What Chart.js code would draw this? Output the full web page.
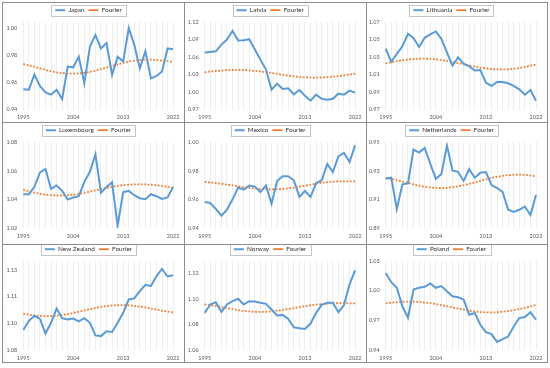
<!DOCTYPE html>
<html>
<head>
<meta charset="utf-8">
<script src="https://cdn.jsdelivr.net/npm/chart.js@4.4.1/dist/chart.umd.min.js"></script>
<style>
  html, body { margin: 0; padding: 0; background: #fff; }
  #grid { position: relative; width: 550px; height: 368px; }
  .panel { position: absolute; box-sizing: border-box; border: 1px solid #8c8c8c; background: #fff; }
  .panel canvas { display: block; }
</style>
</head>
<body>
<div id="grid"></div>
<script>
const years = ['1995', '1996', '1997', '1998', '1999', '2000', '2001', '2002', '2003', '2004',
  '2005', '2006', '2007', '2008', '2009', '2010', '2011', '2012', '2013', '2014',
  '2015', '2016', '2017', '2018', '2019', '2020', '2021', '2022'];
const shownYears = ['1995', '2004', '2013', '2022'];

const japan = [0.9550, 0.9546, 0.9657, 0.9573, 0.9526, 0.9510, 0.9546, 0.9477, 0.9716, 0.9711,
  0.9790, 0.9593, 0.9864, 0.9950, 0.9850, 0.9890, 0.9654, 0.9788, 0.9753, 1.0000,
  0.9877, 0.9704, 0.9830, 0.9630, 0.9647, 0.9680, 0.9850, 0.9844];
const japanFourier = [0.9735, 0.9725, 0.9715, 0.9703, 0.9692, 0.9682, 0.9674, 0.9668, 0.9665, 0.9664,
  0.9666, 0.9670, 0.9677, 0.9686, 0.9697, 0.9709, 0.9721, 0.9733, 0.9744, 0.9753,
  0.9760, 0.9765, 0.9767, 0.9767, 0.9765, 0.9761, 0.9756, 0.9750];

const latvia = [1.0676, 1.0687, 1.0698, 1.0813, 1.0899, 1.1048, 1.0882, 1.0887, 1.0905, 1.0727,
  1.0555, 1.0384, 1.0040, 1.0143, 1.0052, 1.0063, 0.9960, 1.0034, 0.9937, 0.9851,
  0.9954, 0.9885, 0.9868, 0.9885, 0.9971, 0.9954, 1.0023, 0.9989];
const latviaFourier = [1.0338, 1.0350, 1.0360, 1.0368, 1.0374, 1.0377, 1.0378, 1.0376, 1.0371, 1.0363,
  1.0352, 1.0339, 1.0325, 1.0310, 1.0295, 1.0281, 1.0268, 1.0258, 1.0251, 1.0247,
  1.0246, 1.0249, 1.0255, 1.0263, 1.0273, 1.0285, 1.0299, 1.0313];

const lithuania = [1.0396, 1.0246, 1.0335, 1.0423, 1.0565, 1.0515, 1.0415, 1.0519, 1.0558, 1.0592,
  1.0508, 1.0354, 1.0200, 1.0296, 1.0223, 1.0192, 1.0146, 1.0150, 1.0008, 0.9969,
  1.0015, 1.0015, 1.0000, 0.9969, 0.9931, 0.9869, 0.9923, 0.9800];
const lithuaniaFourier = [1.0227, 1.0240, 1.0252, 1.0262, 1.0271, 1.0277, 1.0280, 1.0281, 1.0278, 1.0273,
  1.0265, 1.0255, 1.0243, 1.0230, 1.0216, 1.0203, 1.0190, 1.0179, 1.0170, 1.0163,
  1.0159, 1.0158, 1.0160, 1.0166, 1.0175, 1.0186, 1.0199, 1.0213];

const luxembourg = [1.0438, 1.0438, 1.0489, 1.0590, 1.0613, 1.0475, 1.0499, 1.0461, 1.0400, 1.0415,
  1.0424, 1.0524, 1.0594, 1.0716, 1.0447, 1.0489, 1.0522, 1.0216, 1.0452, 1.0461,
  1.0431, 1.0410, 1.0403, 1.0438, 1.0424, 1.0405, 1.0415, 1.0489];
const luxembourgFourier = [1.0468, 1.0458, 1.0449, 1.0441, 1.0435, 1.0431, 1.0429, 1.0429, 1.0431, 1.0435,
  1.0441, 1.0448, 1.0456, 1.0465, 1.0474, 1.0482, 1.0490, 1.0496, 1.0501, 1.0504,
  1.0506, 1.0507, 1.0506, 1.0504, 1.0500, 1.0495, 1.0489, 1.0482];

const mexico = [0.9584, 0.9577, 0.9535, 0.9488, 0.9530, 0.9602, 0.9684, 0.9670, 0.9698, 0.9691,
  0.9653, 0.9698, 0.9572, 0.9730, 0.9763, 0.9763, 0.9735, 0.9619, 0.9660, 0.9619,
  0.9716, 0.9735, 0.9849, 0.9793, 0.9902, 0.9926, 0.9863, 0.9979];
const mexicoFourier = [0.9723, 0.9720, 0.9716, 0.9711, 0.9705, 0.9699, 0.9693, 0.9687, 0.9682, 0.9678,
  0.9675, 0.9673, 0.9672, 0.9673, 0.9675, 0.9679, 0.9684, 0.9690, 0.9697, 0.9704,
  0.9711, 0.9717, 0.9722, 0.9725, 0.9727, 0.9728, 0.9728, 0.9728];

const netherlands = [0.9246, 0.9253, 0.9034, 0.9207, 0.9214, 0.9449, 0.9428, 0.9461, 0.9352, 0.9246,
  0.9278, 0.9477, 0.9304, 0.9294, 0.9230, 0.9313, 0.9253, 0.9288, 0.9292, 0.9202,
  0.9181, 0.9154, 0.9029, 0.9015, 0.9029, 0.9052, 0.8992, 0.9133];
const netherlandsFourier = [0.9253, 0.9245, 0.9236, 0.9226, 0.9216, 0.9206, 0.9197, 0.9190, 0.9185, 0.9182,
  0.9181, 0.9183, 0.9187, 0.9193, 0.9201, 0.9210, 0.9220, 0.9231, 0.9241, 0.9251,
  0.9259, 0.9266, 0.9271, 0.9274, 0.9275, 0.9273, 0.9269, 0.9263];

const newZealand = [1.0912, 1.0963, 1.0992, 1.0975, 1.0893, 1.0953, 1.1033, 1.0979, 1.0972, 1.0977,
  1.0961, 1.0979, 1.0953, 1.0882, 1.0878, 1.0905, 1.0901, 1.0953, 1.1009, 1.1084,
  1.1090, 1.1131, 1.1166, 1.1159, 1.1215, 1.1256, 1.1213, 1.1220];
const newZealandFourier = [1.1005, 1.0999, 1.0994, 1.0991, 1.0990, 1.0991, 1.0993, 1.0997, 1.1002, 1.1008,
  1.1015, 1.1022, 1.1029, 1.1036, 1.1042, 1.1047, 1.1050, 1.1052, 1.1052, 1.1051,
  1.1048, 1.1044, 1.1039, 1.1033, 1.1027, 1.1021, 1.1016, 1.1011];

const norway = [1.0892, 1.0958, 1.0976, 1.0900, 1.0958, 1.0984, 1.1003, 1.0958, 1.0984, 1.0982,
  1.0971, 1.0963, 1.0918, 1.0871, 1.0876, 1.0845, 1.0779, 1.0771, 1.0766, 1.0808,
  1.0892, 1.0955, 1.0971, 1.0971, 1.0897, 1.0953, 1.1116, 1.1226];
const norwayFourier = [1.0958, 1.0953, 1.0946, 1.0938, 1.0929, 1.0921, 1.0914, 1.0908, 1.0904, 1.0901,
  1.0900, 1.0901, 1.0904, 1.0909, 1.0915, 1.0922, 1.0930, 1.0937, 1.0945, 1.0951,
  1.0957, 1.0961, 1.0965, 1.0967, 1.0968, 1.0968, 1.0967, 1.0966];

const poland = [1.0178, 1.0086, 1.0029, 0.9842, 0.9726, 1.0012, 1.0029, 1.0039, 1.0073, 1.0029,
  1.0046, 0.9995, 0.9944, 0.9933, 0.9910, 0.9757, 0.9774, 0.9655, 0.9580, 0.9560,
  0.9482, 0.9509, 0.9536, 0.9638, 0.9723, 0.9733, 0.9781, 0.9706];
const polandFourier = [0.9872, 0.9878, 0.9883, 0.9887, 0.9889, 0.9888, 0.9885, 0.9880, 0.9873, 0.9864,
  0.9854, 0.9843, 0.9831, 0.9819, 0.9808, 0.9798, 0.9790, 0.9784, 0.9781, 0.9780,
  0.9782, 0.9787, 0.9794, 0.9803, 0.9814, 0.9826, 0.9840, 0.9856];

// y tick values and their printed labels, per panel
const japanTicks = [0.94, 0.96, 0.98, 1.00];
const latviaTicks = [0.97, 1.00, 1.03, 1.06, 1.09, 1.12];
const lithuaniaTicks = [0.97, 0.99, 1.01, 1.03, 1.05, 1.07];
const luxembourgTicks = [1.02, 1.04, 1.06, 1.08];
const mexicoTicks = [0.94, 0.96, 0.98, 1.00];
const netherlandsTicks = [0.89, 0.91, 0.93, 0.95];
const newZealandTicks = [1.08, 1.095, 1.11, 1.125];
const newZealandTickText = ['1.08', '1.10', '1.11', '1.13'];
const norwayTicks = [1.06, 1.08, 1.10, 1.12];
const polandTicks = [0.94, 0.97, 1.00, 1.03];

const panels = [
  { name: 'Japan', data: japan, fourier: japanFourier, ticks: japanTicks, min: 0.94, max: 1.0045 },
  { name: 'Latvia', data: latvia, fourier: latviaFourier, ticks: latviaTicks, min: 0.97, max: 1.12 },
  { name: 'Lithuania', data: lithuania, fourier: lithuaniaFourier, ticks: lithuaniaTicks, min: 0.97, max: 1.07 },
  { name: 'Luxembourg', data: luxembourg, fourier: luxembourgFourier, ticks: luxembourgTicks, min: 1.02, max: 1.08 },
  { name: 'Mexico', data: mexico, fourier: mexicoFourier, ticks: mexicoTicks, min: 0.94, max: 1.00 },
  { name: 'Netherlands', data: netherlands, fourier: netherlandsFourier, ticks: netherlandsTicks, min: 0.89, max: 0.95 },
  { name: 'New Zealand', data: newZealand, fourier: newZealandFourier, ticks: newZealandTicks, tickText: newZealandTickText, min: 1.08, max: 1.13 },
  { name: 'Norway', data: norway, fourier: norwayFourier, ticks: norwayTicks, min: 1.06, max: 1.13 },
  { name: 'Poland', data: poland, fourier: polandFourier, ticks: polandTicks, min: 0.94, max: 1.03 },
];

// grid geometry
const colLeft = [2, 184, 366];
const colWidth = [183, 183, 182];
const rowTop = [2, 122, 244];
const rowHeight = [121, 123, 119];
// chart area targets inside each canvas
const colAxisWidth = [20.3, 19.7, 18.7];
const colPadRight = [10, 10.7, 11];
const rowPadTop = [0, 0, -3];
const rowLegendHeight = [19, 19.3, 19];
const rowAxisHeight = [12.5, 15.7, 12];

const FONT = 'Lato, "Open Sans", sans-serif';

const legendFrame = {
  id: 'legendFrame',
  afterDraw(chart) {
    const boxes = chart.legend && chart.legend.legendHitBoxes;
    if (!boxes || !boxes.length) return;
    const left = Math.min(...boxes.map(b => b.left)) - 4;
    const right = Math.max(...boxes.map(b => b.left + b.width)) + 4;
    const top = Math.min(...boxes.map(b => b.top)) - 2.5;
    const bottom = Math.max(...boxes.map(b => b.top + b.height)) + 2.5;
    const ctx = chart.ctx;
    ctx.save();
    ctx.strokeStyle = '#c4c4c4';
    ctx.lineWidth = 1;
    ctx.strokeRect(Math.round(left) + 0.5, Math.round(top) + 0.5, Math.round(right - left), Math.round(bottom - top));
    ctx.restore();
  }
};

const grid = document.getElementById('grid');

panels.forEach((p, i) => {
  const col = i % 3;
  const row = Math.floor(i / 3);
  const div = document.createElement('div');
  div.className = 'panel';
  div.style.left = colLeft[col] + 'px';
  div.style.top = rowTop[row] + 'px';
  div.style.width = colWidth[col] + 'px';
  div.style.height = rowHeight[row] + 'px';
  const canvas = document.createElement('canvas');
  div.appendChild(canvas);
  grid.appendChild(div);

  new Chart(canvas, {
    type: 'line',
    data: {
      labels: years,
      datasets: [
        {
          label: p.name,
          data: p.data,
          borderColor: '#5b9bd5',
          backgroundColor: '#5b9bd5',
          borderWidth: 2,
          pointRadius: 0,
          pointStyle: 'line',
          tension: 0,
        },
        {
          label: 'Fourier',
          data: p.fourier,
          borderColor: '#ed7d31',
          backgroundColor: '#ed7d31',
          borderWidth: 1.8,
          borderDash: [1.8, 1.6],
          pointRadius: 0,
          pointStyle: 'line',
          tension: 0.3,
        },
      ],
    },
    options: {
      responsive: true,
      maintainAspectRatio: false,
      animation: false,
      layout: { padding: { left: 0, right: colPadRight[col], top: rowPadTop[row], bottom: 0 } },
      plugins: {
        tooltip: { enabled: false },
        legend: {
          position: 'top',
          maxHeight: rowLegendHeight[row],
          labels: {
            usePointStyle: true,
            pointStyleWidth: 10,
            boxWidth: 10,
            boxHeight: 7,
            padding: 4,
            color: '#303030',
            font: { family: FONT, size: 6.4 },
          },
        },
      },
      scales: {
        x: {
          offset: false,
          grid: { color: '#eeeeee', lineWidth: 1, drawTicks: false, offset: false },
          border: { display: false },
          ticks: {
            autoSkip: false,
            maxRotation: 0,
            padding: 4.5,
            color: '#595959',
            font: { family: FONT, size: 5.5 },
            callback: (v, idx) => (shownYears.includes(years[idx]) ? years[idx] : ''),
          },
          afterFit: (scale) => { scale.height = rowAxisHeight[row]; },
        },
        y: {
          min: p.min,
          max: p.max,
          grid: { display: false, drawTicks: false },
          border: { display: false },
          ticks: {
            padding: 6,
            color: '#595959',
            font: { family: FONT, size: 5.5 },
            callback: (v, idx) => (p.tickText ? p.tickText[idx] : p.ticks[idx].toFixed(2)),
          },
          afterBuildTicks: (scale) => { scale.ticks = p.ticks.map(v => ({ value: v })); },
          afterFit: (scale) => { scale.width = colAxisWidth[col]; },
        },
      },
    },
    plugins: [legendFrame],
  });
});
</script>
</body>
</html>
